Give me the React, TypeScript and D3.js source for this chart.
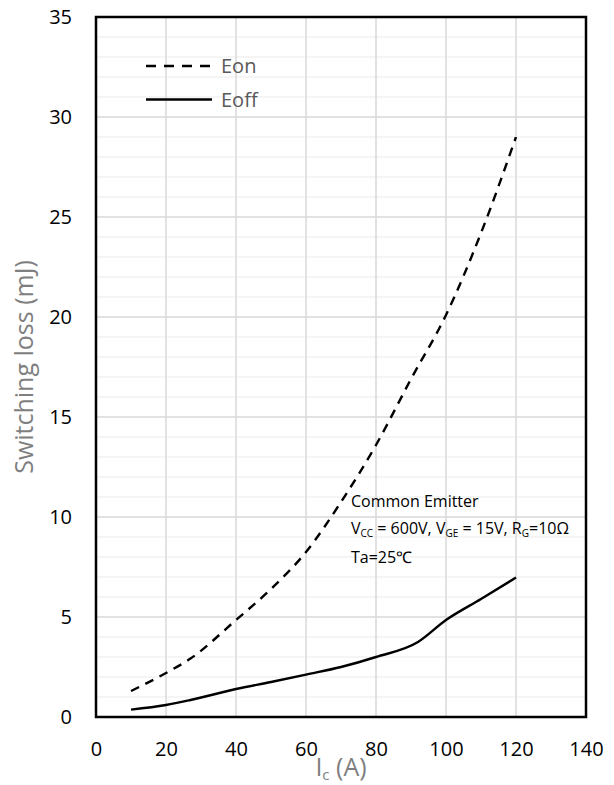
import React, { useEffect, useRef } from 'react';
import * as d3 from 'd3';

// collector current (A) and switching energy (mJ)
const eonIc = [10, 20, 27, 40, 50, 60, 70, 80, 90, 100, 110, 120];
const eon = [1.3, 2.2, 2.92, 4.85, 6.4, 8.25, 10.75, 13.6, 16.9, 20.1, 24.2, 29.0];
const eoffIc = [10, 20, 27, 40, 50, 60, 70, 80, 92, 100, 110, 120];
const eoff = [0.37, 0.6, 0.85, 1.4, 1.75, 2.12, 2.5, 3.0, 3.75, 4.85, 5.9, 6.97];

const xTicks = [0, 20, 40, 60, 80, 100, 120, 140];
const yTicks = [0, 5, 10, 15, 20, 25, 30, 35];
const seriesNames = ['Eon', 'Eoff'];

const FONT = '"Open Sans", sans-serif';

export default function App() {
    const ref = useRef<SVGSVGElement | null>(null);

    useEffect(() => {
        const margin = { top: 17, right: 28, bottom: 68, left: 96 },
            width = 614 - margin.left - margin.right,
            height = 785 - margin.top - margin.bottom;

        const root = d3.select(ref.current);
        root.selectAll('*').remove();
        const svg = root.append('g')
            .attr('transform', 'translate(' + margin.left + ',' + margin.top + ')');

        // scales
        const x = d3.scaleLinear().domain([0, 140]).range([0, width]);
        const y = d3.scaleLinear().domain([0, 35]).range([height, 0]);

        // minor horizontal grid (every 1 mJ)
        const minor = d3.range(1, 35).filter((v) => v % 5 !== 0);
        svg.append('g').selectAll('line')
            .data(minor)
            .enter().append('line')
            .attr('x1', 0).attr('x2', width)
            .attr('y1', (d) => y(d)).attr('y2', (d) => y(d))
            .attr('stroke', '#f2f2f2').attr('stroke-width', 1.5);

        // major grid
        svg.append('g').selectAll('line')
            .data(yTicks.slice(1, -1))
            .enter().append('line')
            .attr('x1', 0).attr('x2', width)
            .attr('y1', (d) => y(d)).attr('y2', (d) => y(d))
            .attr('stroke', '#d9d9d9').attr('stroke-width', 1.5);
        svg.append('g').selectAll('line')
            .data(xTicks.slice(1, -1))
            .enter().append('line')
            .attr('y1', 0).attr('y2', height)
            .attr('x1', (d) => x(d)).attr('x2', (d) => x(d))
            .attr('stroke', '#d9d9d9').attr('stroke-width', 1.5);

        // axes (labels only)
        const gx = svg.append('g')
            .attr('transform', 'translate(0,' + height + ')')
            .call(d3.axisBottom(x).tickValues(xTicks).tickSize(0));
        gx.select('.domain').remove();
        gx.selectAll('text')
            .attr('y', 39).attr('dy', null)
            .attr('font-family', FONT).attr('font-size', 20).attr('fill', '#000');

        const gy = svg.append('g')
            .call(d3.axisLeft(y).tickValues(yTicks).tickSize(0).tickPadding(24));
        gy.select('.domain').remove();
        gy.selectAll('text')
            .attr('font-family', FONT).attr('font-size', 20).attr('fill', '#000');

        // curves
        const line = d3.line<[number, number]>()
            .x((d) => x(d[0]))
            .y((d) => y(d[1]))
            .curve(d3.curveMonotoneX);

        svg.append('path')
            .attr('d', line(eonIc.map((v, i) => [v, eon[i]] as [number, number])))
            .attr('fill', 'none').attr('stroke', '#000')
            .attr('stroke-width', 2.4).attr('stroke-dasharray', '9,7');
        svg.append('path')
            .attr('d', line(eoffIc.map((v, i) => [v, eoff[i]] as [number, number])))
            .attr('fill', 'none').attr('stroke', '#000')
            .attr('stroke-width', 2.4);

        // plot border
        svg.append('rect')
            .attr('width', width).attr('height', height)
            .attr('fill', 'none').attr('stroke', '#000').attr('stroke-width', 2.5);

        // legend
        const legend = root.append('g');
        seriesNames.forEach((name, i) => {
            const ly = 66 + i * 33.5;
            legend.append('line')
                .attr('x1', 146).attr('x2', 212)
                .attr('y1', ly).attr('y2', ly)
                .attr('stroke', '#000').attr('stroke-width', 2.4)
                .attr('stroke-dasharray', i === 0 ? '10,8' : null);
            legend.append('text')
                .attr('x', 221).attr('y', ly)
                .attr('dy', '0.35em')
                .attr('font-family', FONT).attr('font-size', 20)
                .attr('fill', '#595959')
                .text(name);
        });

        // test conditions
        const note = root.append('g')
            .attr('font-family', FONT).attr('font-size', 16).attr('fill', '#000');
        note.append('text').attr('x', 351).attr('y', 507).text('Common Emitter');
        const cond = note.append('text').attr('x', 351).attr('y', 534);
        cond.append('tspan').text('V');
        cond.append('tspan').attr('font-size', 10).attr('dy', 3).text('CC');
        cond.append('tspan').attr('dy', -3).text(' = 600V, V');
        cond.append('tspan').attr('font-size', 10).attr('dy', 3).text('GE');
        cond.append('tspan').attr('dy', -3).text(' = 15V, R');
        cond.append('tspan').attr('font-size', 10).attr('dy', 3).text('G');
        cond.append('tspan').attr('dy', -3).text('=10Ω');
        note.append('text').attr('x', 351).attr('y', 563).text('Ta=25℃');

        // axis titles
        const xt = root.append('text')
            .attr('x', margin.left + width / 2).attr('y', 776)
            .attr('text-anchor', 'middle')
            .attr('font-family', FONT).attr('font-size', 25).attr('fill', '#7f7f7f');
        xt.append('tspan').text('I');
        xt.append('tspan').attr('font-size', 15).attr('dy', 4).text('c');
        xt.append('tspan').attr('dy', -4).text(' (A)');

        root.append('text')
            .attr('transform', 'translate(33,' + (margin.top + height / 2) + ') rotate(-90)')
            .attr('text-anchor', 'middle')
            .attr('font-family', FONT).attr('font-size', 25).attr('fill', '#7f7f7f')
            .text('Switching loss (mJ)');
    }, []);

    return (
        <svg ref={ref} width={614} height={785}
            style={{ position: 'absolute', left: 0, top: 0, background: '#fff' }} />
    );
}
